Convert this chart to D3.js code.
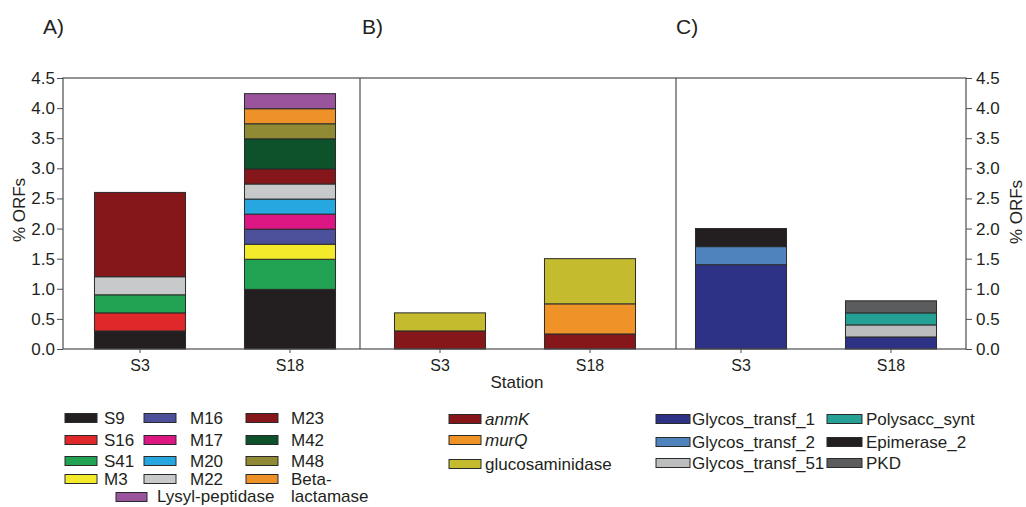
<!DOCTYPE html>
<html>
<head>
<meta charset="utf-8">
<script src="https://cdn.jsdelivr.net/npm/d3@7"></script>
<style>
  body { margin: 0; background: #fff; }
  text { font-family: "Liberation Sans", Arial, sans-serif; fill: #231f20; }
</style>
</head>
<body>
<div id="chart"></div>
<script>
// stations on the x axis
var stations = ["S3", "S18"];
var yTicks = [0, 0.5, 1, 1.5, 2, 2.5, 3, 3.5, 4, 4.5];

// panel A
var keysA = ["S9", "S16", "S41", "M3", "M16", "M17", "M20", "M22", "M23", "M42", "M48", "Beta-lactamase", "Lysyl-peptidase"];
var valsA_S3  = [0.3, 0.3, 0.3, 0, 0, 0, 0, 0.3, 1.4, 0, 0, 0, 0];
var valsA_S18 = [0.99, 0, 0.5, 0.25, 0.25, 0.25, 0.25, 0.25, 0.25, 0.5, 0.25, 0.25, 0.25];

// panel B
var keysB = ["anmK", "murQ", "glucosaminidase"];
var valsB_S3  = [0.3, 0, 0.3];
var valsB_S18 = [0.25, 0.5, 0.75];

// panel C
var keysC = ["Glycos_transf_1", "Glycos_transf_2", "Glycos_transf_51", "Polysacc_synt", "Epimerase_2", "PKD"];
var valsC_S3  = [1.4, 0.3, 0, 0, 0.3, 0];
var valsC_S18 = [0.2, 0, 0.2, 0.2, 0, 0.2];

var colors = {
  "S9": "#231f20", "S16": "#e0282a", "S41": "#21a152", "M3": "#f3ea2c",
  "M16": "#4c4f99", "M17": "#dc1683", "M20": "#27a7e0", "M22": "#c8c9cb",
  "M23": "#85171a", "M42": "#0e522c", "M48": "#918a35", "Beta-lactamase": "#ef9129",
  "Lysyl-peptidase": "#9a549c",
  "anmK": "#85171a", "murQ": "#ef9329", "glucosaminidase": "#c4bb2e",
  "Glycos_transf_1": "#2d3286", "Glycos_transf_2": "#4f83bd", "Glycos_transf_51": "#bcbdbf",
  "Polysacc_synt": "#25a095", "Epimerase_2": "#231f20", "PKD": "#5a5c5e"
};

var W = 1026, H = 507;
var top0 = 78, bottom0 = 349, left0 = 63, right0 = 966;
var lineCol = "#4d4d4d";

var svg = d3.select("#chart").append("svg")
    .attr("width", W).attr("height", H);

var y = d3.scaleLinear().domain([0, 4.5]).range([bottom0, top0]);

function rows(keys, a, b) {
  return [a, b].map(function(vals, i) {
    var r = { station: stations[i] };
    keys.forEach(function(k, j) { r[k] = vals[j]; });
    return r;
  });
}

var panels = [
  { keys: keysA, data: rows(keysA, valsA_S3, valsA_S18), range: [65, 365], label: "A)", lx: 43 },
  { keys: keysB, data: rows(keysB, valsB_S3, valsB_S18), range: [365, 665], label: "B)", lx: 362 },
  { keys: keysC, data: rows(keysC, valsC_S3, valsC_S18), range: [666, 966], label: "C)", lx: 676 }
];

panels.forEach(function(p) {
  var x = d3.scaleBand().domain(stations).range(p.range)
      .paddingInner(0.393).paddingOuter(0.1965);
  var series = d3.stack().keys(p.keys)(p.data);

  svg.append("g").selectAll("g")
    .data(series)
    .join("g")
      .attr("fill", function(d) { return colors[d.key]; })
    .selectAll("rect")
    .data(function(d) { return d.filter(function(v) { return v[1] - v[0] > 0; }); })
    .join("rect")
      .attr("x", function(d) { return x(d.data.station); })
      .attr("y", function(d) { return y(d[1]); })
      .attr("width", x.bandwidth())
      .attr("height", function(d) { return y(d[0]) - y(d[1]); })
      .attr("stroke", "#2a2a2a")
      .attr("stroke-width", 1);

  var xa = svg.append("g")
      .attr("transform", "translate(0," + bottom0 + ")")
      .call(d3.axisBottom(x).tickSize(4).tickSizeOuter(0).tickPadding(7));
  xa.select(".domain").remove();
  xa.selectAll("line").attr("stroke", lineCol);
  xa.selectAll("text").style("font-size", "16px").attr("fill", "#231f20");

  svg.append("text")
      .attr("x", p.lx).attr("y", 34)
      .style("font-size", "21px")
      .text(p.label);
});

// frame
svg.append("rect")
    .attr("x", left0).attr("y", top0)
    .attr("width", right0 - left0).attr("height", bottom0 - top0)
    .attr("fill", "none").attr("stroke", lineCol).attr("stroke-width", 1.2);
[360, 676].forEach(function(xx) {
  svg.append("line")
      .attr("x1", xx).attr("x2", xx).attr("y1", top0).attr("y2", bottom0)
      .attr("stroke", lineCol).attr("stroke-width", 1.2);
});

// y axes
var ya = svg.append("g")
    .attr("transform", "translate(" + left0 + ",0)")
    .call(d3.axisLeft(y).tickValues(yTicks).tickFormat(d3.format(".1f")).tickSize(6).tickSizeOuter(0).tickPadding(2));
var yb = svg.append("g")
    .attr("transform", "translate(" + right0 + ",0)")
    .call(d3.axisRight(y).tickValues(yTicks).tickFormat(d3.format(".1f")).tickSize(6).tickSizeOuter(0).tickPadding(4));
[ya, yb].forEach(function(a) {
  a.select(".domain").remove();
  a.selectAll("line").attr("stroke", lineCol);
  a.selectAll("text").style("font-size", "17px").attr("fill", "#231f20");
});

svg.append("text")
    .attr("transform", "translate(25,210) rotate(-90)")
    .attr("text-anchor", "middle")
    .style("font-size", "17px")
    .text("% ORFs");
svg.append("text")
    .attr("transform", "translate(1022,212) rotate(-90)")
    .attr("text-anchor", "middle")
    .style("font-size", "17px")
    .text("% ORFs");

svg.append("text")
    .attr("x", 517).attr("y", 388)
    .attr("text-anchor", "middle")
    .style("font-size", "17px")
    .text("Station");

// legends
function swatch(g, x0, yc, w, key) {
  g.append("rect")
      .attr("x", x0).attr("y", yc - 4.5)
      .attr("width", w).attr("height", 9)
      .attr("fill", colors[key])
      .attr("stroke", "#2a2a2a").attr("stroke-width", 1);
}
function label(g, x0, yc, txt, italic) {
  g.append("text")
      .attr("x", x0).attr("y", yc).attr("dy", "0.35em")
      .style("font-size", "17px")
      .style("font-style", italic ? "italic" : "normal")
      .text(txt);
}

var legA = svg.append("g");
var rowA = [418, 440, 461, 479];
var colA = [{ s: 65, t: 104 }, { s: 144, t: 190 }, { s: 246, t: 291 }];
keysA.forEach(function(k, i) {
  if (i < 12) {
    var c = colA[Math.floor(i / 4)], r = rowA[i % 4];
    swatch(legA, c.s, r, 32, k);
    label(legA, c.t, r, k === "Beta-lactamase" ? "Beta-" : k, false);
  } else {
    swatch(legA, 116, 497, 31, k);
    label(legA, 157, 496, k, false);
  }
});
label(legA, 291, 496, "lactamase", false);

var legB = svg.append("g");
var rowB = [419, 440, 464];
keysB.forEach(function(k, i) {
  swatch(legB, 449, rowB[i], 32, k);
  label(legB, 485, rowB[i], k, k !== "glucosaminidase");
});

var legC = svg.append("g");
var rowC = [419, 442, 463];
keysC.forEach(function(k, i) {
  var col = Math.floor(i / 3), r = rowC[i % 3];
  var sx = col === 0 ? 656 : 827, tx = col === 0 ? 692 : 866;
  swatch(legC, sx, r, col === 0 ? 34 : 35, k);
  label(legC, tx, r, k, false);
});
</script>
</body>
</html>
